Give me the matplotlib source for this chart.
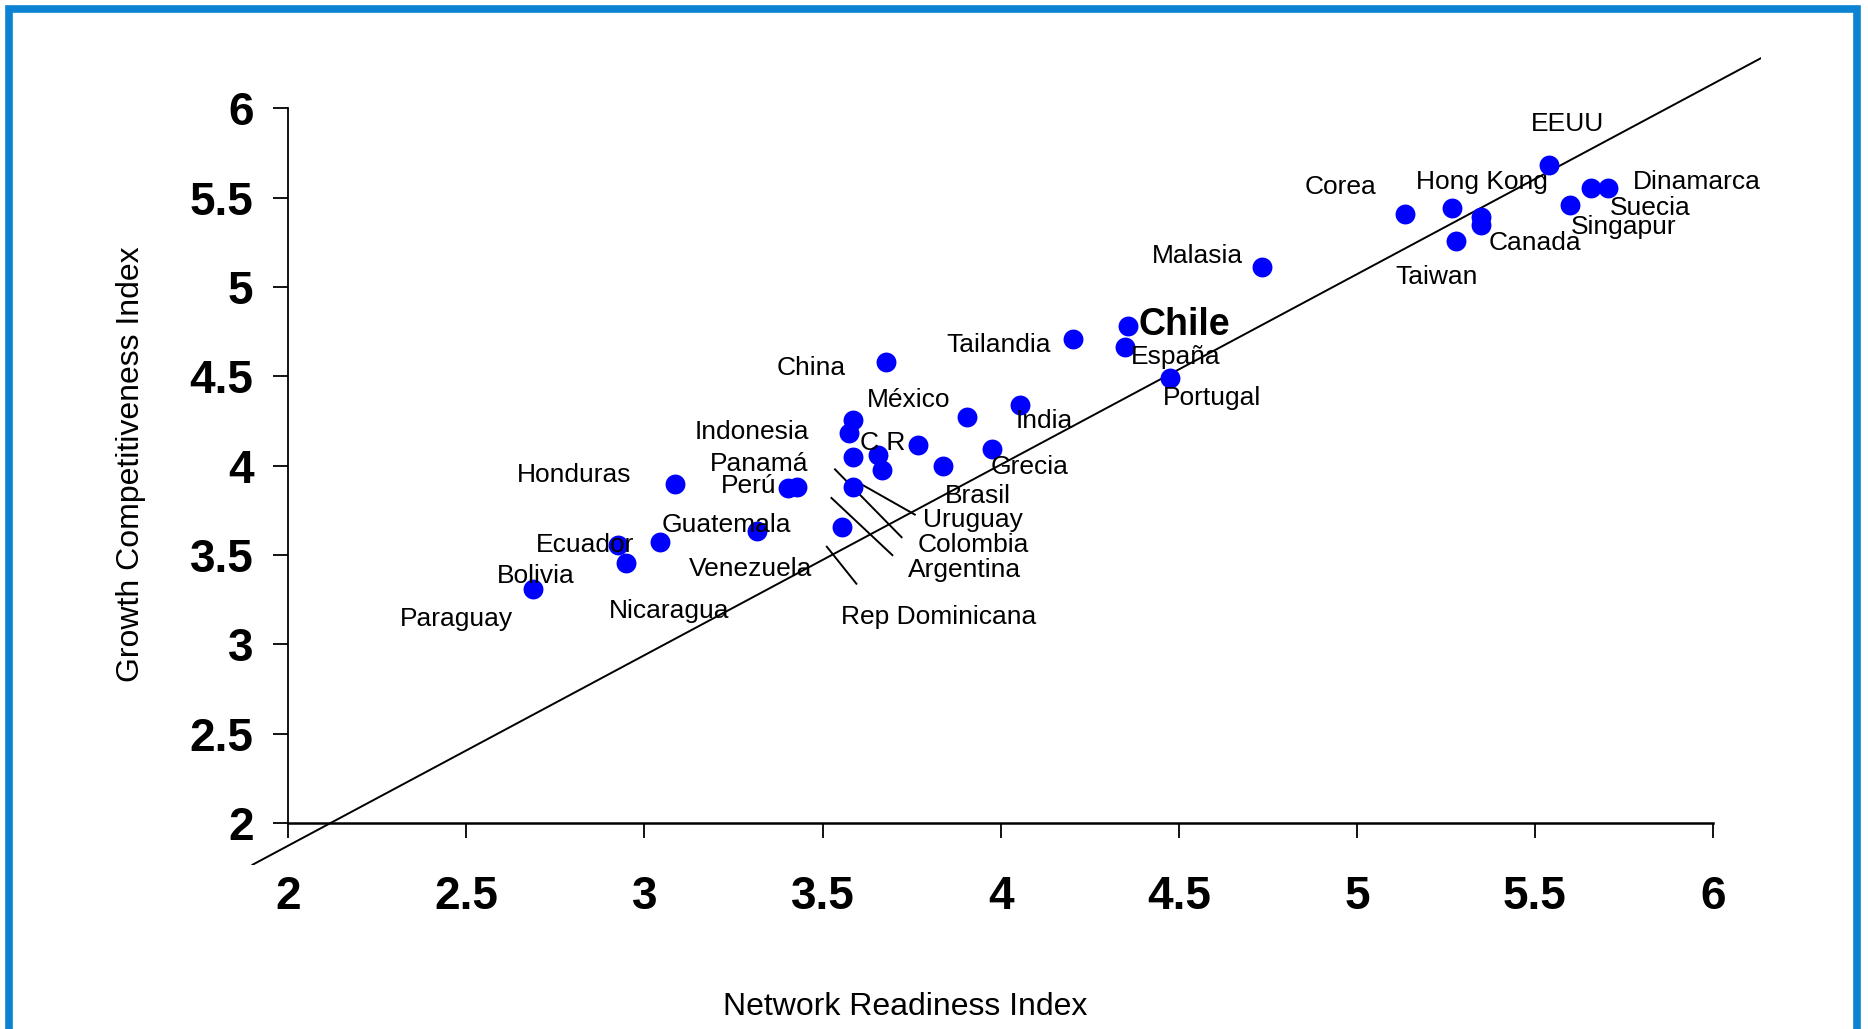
import matplotlib.pyplot as plt
from matplotlib.patches import Rectangle

plt.rcParams['font.family'] = ['Liberation Sans', 'DejaVu Sans']

# Network Readiness Index (x) vs Growth Competitiveness Index (y), one dot per country
nri = [5.539, 5.657, 5.704, 5.598, 5.349, 5.349, 5.268, 5.135, 5.278,
       4.735, 4.358, 4.348, 4.475, 4.204, 3.677, 3.906, 4.054,
       3.586, 3.575, 3.586, 3.657, 3.667, 3.769, 3.837, 3.975,
       3.586, 3.404, 3.427, 3.087, 3.315, 3.556,
       2.926, 3.045, 2.948, 2.688]
gci = [5.683, 5.553, 5.553, 5.459, 5.391, 5.347, 5.441, 5.409, 5.258,
       5.111, 4.783, 4.667, 4.489, 4.709, 4.579, 4.275, 4.340,
       4.256, 4.185, 4.051, 4.061, 3.977, 4.117, 3.999, 4.092,
       3.883, 3.877, 3.883, 3.900, 3.637, 3.659,
       3.557, 3.575, 3.458, 3.309]

# trend line
trend_slope = 1.066
trend_intercept = -0.258

# country labels (left edge, vertical centre)
label_names = ['EEUU', 'Dinamarca', 'Suecia', 'Singapur', 'Canada', 'Taiwan',
               'Hong Kong', 'Corea', 'Malasia', 'Chile', 'España', 'Portugal',
               'Tailandia', 'China', 'México', 'India', 'Indonesia', 'C R',
               'Panamá', 'Perú', 'Honduras', 'Grecia', 'Brasil', 'Uruguay',
               'Colombia', 'Argentina', 'Rep Dominicana', 'Venezuela',
               'Guatemala', 'Ecuador', 'Nicaragua', 'Bolivia', 'Paraguay']
label_x = [5.488, 5.776, 5.709, 5.602, 5.371, 5.107,
           5.167, 4.853, 4.425, 4.388, 4.365, 4.455,
           3.849, 3.371, 3.625, 4.043, 3.140, 3.605,
           3.184, 3.214, 2.642, 3.973, 3.843, 3.783,
           3.766, 3.739, 3.552, 3.124,
           3.047, 2.696, 2.900, 2.585, 2.314]
label_y = [5.915, 5.589, 5.442, 5.335, 5.249, 5.055,
           5.589, 5.562, 5.175, 4.789, 4.609, 4.382,
           4.675, 4.549, 4.369, 4.249, 4.189, 4.129,
           4.009, 3.889, 3.949, 3.995, 3.829, 3.695,
           3.555, 3.415, 3.155, 3.422,
           3.669, 3.555, 3.189, 3.382, 3.142]

# leader lines in the crowded cluster
leaders = [((3.535, 3.980), (3.722, 3.600)),
           ((3.612, 3.893), (3.759, 3.727)),
           ((3.525, 3.820), (3.696, 3.500)),
           ((3.512, 3.547), (3.595, 3.340))]

ticks = [2, 2.5, 3, 3.5, 4, 4.5, 5, 5.5, 6]
tick_labels = ['2', '2.5', '3', '3.5', '4', '4.5', '5', '5.5', '6']

fig = plt.figure(figsize=(18.68, 10.29), dpi=100)
ax = fig.add_axes([0.1257, 0.1596, 0.8169, 0.7958])
ax.set_xlim(1.85, 6.134)
ax.set_ylim(1.767, 6.35)

ax.axline((0, trend_intercept), slope=trend_slope, color='black', lw=1.4, zorder=2)
ax.scatter(nri, gci, s=205, color='#0000ff', linewidths=0, zorder=3)

for name, x, y in zip(label_names, label_x, label_y):
    if name == 'Chile':
        ax.text(x, y, name, fontsize=27, fontweight='bold', ha='left', va='center', zorder=4)
    else:
        ax.text(x, y, name, fontsize=19, ha='left', va='center', zorder=4)

for (x0, y0), (x1, y1) in leaders:
    ax.plot([x0, x1], [y0, y1], color='black', lw=1.4, zorder=2)

for side in ['top', 'right']:
    ax.spines[side].set_visible(False)
ax.spines['left'].set_position(('data', 2))
ax.spines['bottom'].set_position(('data', 2))
ax.spines['left'].set_bounds(2, 6)
ax.spines['bottom'].set_bounds(2, 6)
ax.spines['left'].set_linewidth(1.3)
ax.spines['bottom'].set_linewidth(1.8)

ax.set_xticks(ticks)
ax.set_xticklabels(tick_labels)
ax.set_yticks(ticks)
ax.set_yticklabels(tick_labels)
ax.tick_params(axis='both', direction='out', length=11, width=1.3, labelsize=33)
ax.tick_params(axis='y', pad=14)
ax.tick_params(axis='x', pad=26)
for lab in ax.get_xticklabels() + ax.get_yticklabels():
    lab.set_fontweight('bold')

fig.text(905 / 1868, 1 - 1007 / 1029, 'Network Readiness Index',
         ha='center', va='center', fontsize=23)
fig.text(131 / 1868, 1 - 464 / 1029, 'Growth Competitiveness Index',
         ha='center', va='center', rotation=90, fontsize=23)

# blue frame, open at the bottom edge of the image
fig.patches.append(Rectangle((8.5 / 1868, -0.05), (1857 - 8.5) / 1868, 1.05 - 8.5 / 1029,
                             transform=fig.transFigure, fill=False,
                             edgecolor='#0b83d2', linewidth=5.5))

fig.savefig('out.png', dpi=100)
